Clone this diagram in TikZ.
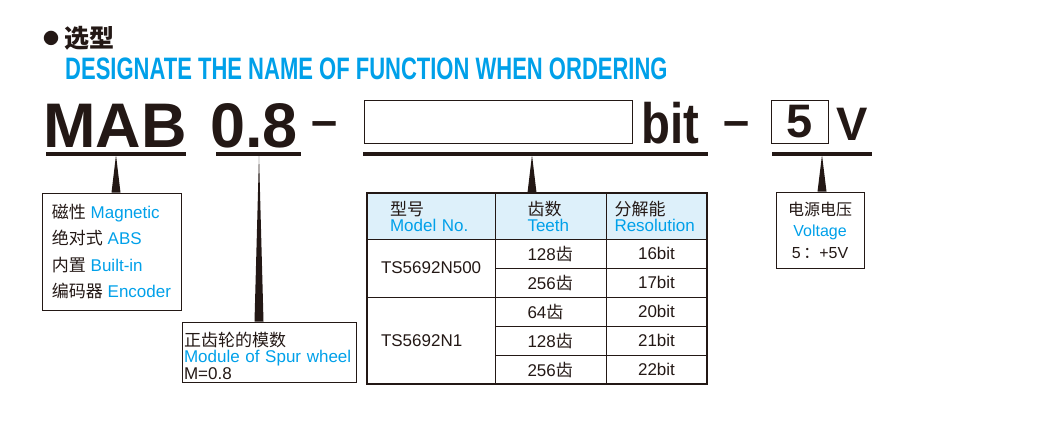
\documentclass[tikz,border=0pt]{standalone}
\usepackage{fontspec}
\usepackage{xcolor}
\usepackage{tikz}
\setmainfont{Liberation Sans}
\newfontfamily\cjk{Noto Sans CJK SC}
\newfontfamily\condfont[FakeStretch=0.71]{Liberation Sans}
\newfontfamily\bitfont[FakeStretch=0.83]{Liberation Sans}
\newcommand{\zh}[1]{{\cjk #1}}
\definecolor{skyblue}{HTML}{00A0E9}
\definecolor{ink}{HTML}{231815}
\definecolor{headfill}{HTML}{DDF0FA}

\begin{document}
\begin{tikzpicture}[
  x=1pt, y=-1pt,
  txt/.style={inner sep=0pt, text=ink},
  big/.style={txt, font=\fontsize{63}{63}\selectfont\bfseries},
  mid/.style={txt, font=\fontsize{47}{47}\selectfont\bfseries},
  slot/.style={draw=ink, line width=0.8pt, inner sep=0pt},
  uline/.style={draw=ink, line width=3.5pt},
  wedge/.style={fill=ink},
  infobox/.style={draw=ink, line width=0.9pt, text=ink, align=left,
                  font=\fontsize{17}{26.3}\selectfont},
  cell/.style={draw=ink, line width=0.7pt, inner sep=0pt, text=ink,
               font=\fontsize{17}{16}\selectfont},
  hd/.style={cell, fill=headfill, minimum height=46pt, align=left}
]
  \useasboundingbox (0,0) rectangle (1043,445);
  % titulo
  \node[txt, anchor=west, font={\fontsize{25}{25}\selectfont\cjk\bfseries}] (title) at (43,38)
    {\raisebox{3pt}{\fontsize{16}{16}\selectfont ●}\hspace{5pt}选型};
  \node[txt, anchor=west, text=skyblue, font={\fontsize{31}{31}\selectfont\condfont\bfseries}] (heading) at (65,69)
    {DESIGNATE THE NAME OF FUNCTION WHEN ORDERING};
  % codigo
  \node[big, anchor=base west] (mab) at (43,147) {MAB};
  \node[big, anchor=base west] (gearmod) at (210,147) {0.8};
  \node[mid, anchor=base] (dasha) at (325,136) {–};
  \node[slot, minimum width=268pt, minimum height=43pt] (modelslot) at (498,122) {};
  \node[txt, anchor=base west, font={\fontsize{57}{57}\selectfont\bitfont\bfseries}] (bit) at (641,143) {bit};
  \node[mid, anchor=base] (dashb) at (737,136) {–};
  \node[slot, mid, draw=ink, minimum width=57pt, minimum height=43pt] (volslot) at (800,121.5) {5};
  \node[mid, anchor=base west] (volt) at (836,140) {V};
  % subrayados
  \draw[uline] (46,154) -- (186,154);
  \draw[uline] (216,154) -- (301,154);
  \draw[uline] (363,154) -- (708,154);
  \draw[uline] (772,154) -- (872,154);
  \coordinate (mabtip) at (116,155);
  \coordinate (modtip) at (259,155);
  \coordinate (tabtip) at (532,155);
  \coordinate (voltip) at (822,155);
  % cajas
  \node[infobox, minimum width=139pt, minimum height=117pt] (mabbox) at (111.5,251.5)
    {\zh{磁性} \textcolor{skyblue}{Magnetic}\\ \zh{绝对式} \textcolor{skyblue}{ABS}\\
     \zh{内置} \textcolor{skyblue}{Built-in}\\ \zh{编码器} \textcolor{skyblue}{Encoder}};
  \node[infobox, font=\fontsize{17}{16.5}\selectfont, text width=170pt, inner xsep=2pt, inner ysep=0pt, minimum height=60pt] (modbox) at (269,352)
    {\rule{0pt}{22pt}\zh{正齿轮的模数}\\ \textcolor{skyblue}{Module of Spur wheel}\\ M=0.8};
  \node[infobox, align=center, font=\fontsize{16}{21.5}\selectfont, text width=80pt, inner xsep=4pt, minimum height=76pt] (volbox) at (820,230)
    {\zh{电源电压}\\ \textcolor{skyblue}{Voltage}\\ 5\,\zh{：}+5V};
  % tabla
  \node[hd, minimum width=128pt, text width=82pt] (hdmodel) at (431,216) {\zh{型号}\\ \textcolor{skyblue}{Model No.}};
  \node[hd, minimum width=111pt, text width=46pt] (hdteeth) at (550.5,216) {\zh{齿数}\\ \textcolor{skyblue}{Teeth}};
  \node[hd, minimum width=101pt, text width=84pt] (hdres) at (656.5,216) {\zh{分解能}\\ \textcolor{skyblue}{Resolution}};
  \node[cell, minimum width=128pt, minimum height=58pt, text width=100pt, align=left] (mdla) at (431,268) {TS5692N500};
  \node[cell, minimum width=128pt, minimum height=87pt, text width=100pt, align=left] (mdlb) at (431,340.5) {TS5692N1};
  \foreach \n/\y/\tn/\rs in {1/253.5/128/16, 2/282.5/256/17, 3/311.5/64/20, 4/340.5/128/21, 5/369.5/256/22} {
    \node[cell, minimum width=111pt, minimum height=29pt, text width=46pt, align=left] (teeth\n) at (550.5,\y) {\tn\zh{齿}};
    \node[cell, minimum width=101pt, minimum height=29pt] (res\n) at (656.5,\y) {\rs bit};
  }
  \draw[draw=ink, line width=1.8pt] (hdmodel.north west) rectangle (res5.south east);
  % flechas
  \foreach \tip/\tgt in {mabtip/mabbox, modtip/modbox, tabtip/hdteeth, voltip/volbox}
    \fill[wedge] (\tip) -- ([xshift=-4.5pt]\tip |- \tgt.north) -- ([xshift=4.5pt]\tip |- \tgt.north) -- cycle;
\end{tikzpicture}
\end{document}
